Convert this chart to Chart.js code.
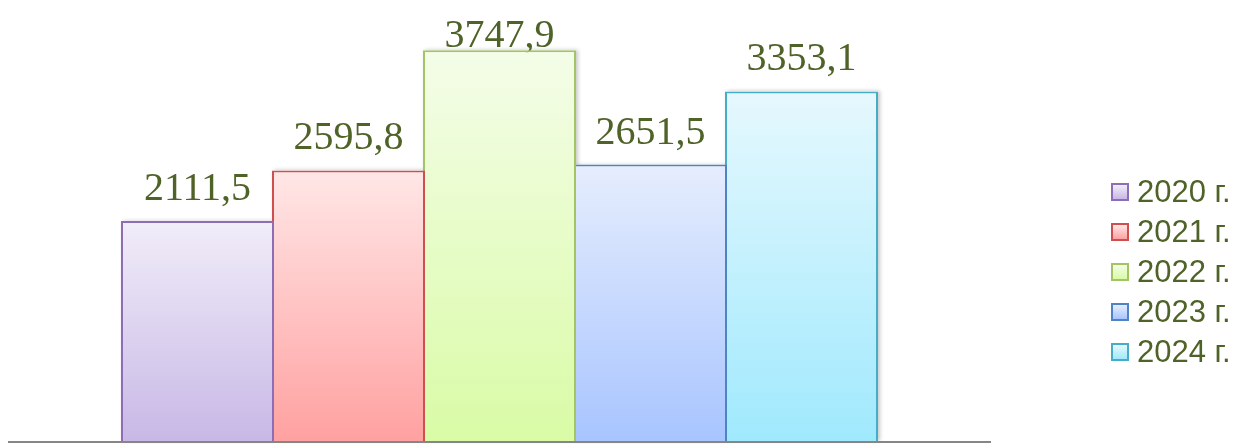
<!DOCTYPE html>
<html>
<head>
<meta charset="utf-8">
<script src="https://cdn.jsdelivr.net/npm/chart.js@4/dist/chart.umd.min.js"></script>
<style>
    html, body { margin: 0; padding: 0; background: #fff; }
    #wrap { position: relative; width: 1235px; height: 444px; overflow: hidden; }
    #legend { position: absolute; left: 1111px; top: 172px; font-family: 'Liberation Sans', Arial, sans-serif; font-size: 31px; color: #4F6228; }
    .item { height: 40px; display: flex; align-items: center; white-space: nowrap; }
    .box { width: 14px; height: 14px; border: 2px solid; margin-right: 8px; box-sizing: content-box; }
</style>
</head>
<body>
<div id="wrap">
    <canvas id="barChart"></canvas>
    <div id="legend"></div>
</div>
<script>
const years = ['2020 г.', '2021 г.', '2022 г.', '2023 г.', '2024 г.'];
const values = [2111.5, 2595.8, 3747.9, 2651.5, 3353.1];
const borderColors = ['#8C6DB6', '#CF4F4F', '#A3C465', '#4F84C4', '#45ADC8'];
const topColors = ['#F1EDF9', '#FFE7E7', '#F4FDE8', '#E6EDFD', '#E6F8FD'];
const bottomColors = ['#C8B8E6', '#FFA1A1', '#D9FBA6', '#A8C5FF', '#A0E9FD'];

function formatValue(v) {
    return v.toFixed(1).replace('.', ',');
}

// vertical gradient per bar, from its top edge down to the baseline
function barFill(context, i) {
    const chart = context.chart;
    const area = chart.chartArea;
    if (!area || context.raw === undefined) return bottomColors[i];
    const top = chart.scales.y.getPixelForValue(context.raw);
    const g = chart.ctx.createLinearGradient(0, top, 0, area.bottom);
    g.addColorStop(0, topColors[i]);
    g.addColorStop(1, bottomColors[i]);
    return g;
}

// soft drop shadow behind the bars, drawn before them so it only shows outside
const barShadow = {
    id: 'barShadow',
    beforeDatasetsDraw(chart) {
        const ctx = chart.ctx;
        ctx.save();
        ctx.shadowColor = 'rgba(0, 0, 0, 0.22)';
        ctx.shadowBlur = 4;
        ctx.shadowOffsetX = 2;
        ctx.shadowOffsetY = 0;
        ctx.fillStyle = '#fff';
        chart.data.datasets.forEach((ds, i) => {
            const bar = chart.getDatasetMeta(i).data[0];
            const half = bar.width / 2;
            ctx.fillRect(bar.x - half, bar.y, bar.width, bar.base - bar.y);
        });
        ctx.restore();
    }
};

const valueLabels = {
    id: 'valueLabels',
    beforeDatasetsDraw(chart) {
        const ctx = chart.ctx;
        ctx.save();
        ctx.font = '40px "Liberation Serif", "Times New Roman", serif';
        ctx.fillStyle = '#4F6228';
        ctx.textAlign = 'center';
        ctx.textBaseline = 'alphabetic';
        chart.data.datasets.forEach((ds, i) => {
            const bar = chart.getDatasetMeta(i).data[0];
            const y = Math.max(bar.y - 21, 47);
            ctx.fillText(formatValue(ds.data[0]), bar.x, y);
        });
        ctx.restore();
    }
};

const baseLine = {
    id: 'baseLine',
    afterDatasetsDraw(chart) {
        const ctx = chart.ctx;
        const a = chart.chartArea;
        ctx.save();
        ctx.strokeStyle = '#868686';
        ctx.lineWidth = 2;
        ctx.beginPath();
        ctx.moveTo(a.left, a.bottom + 1);
        ctx.lineTo(a.right, a.bottom + 1);
        ctx.stroke();
        ctx.restore();
    }
};

function initChart() {
    // bars a border-width wider than their slot, so neighbours share one edge line
    const datasets = years.map((label, i) => ({
        label: label,
        data: [values[i]],
        backgroundColor: ctx => barFill(ctx, i),
        borderColor: borderColors[i],
        borderWidth: 2,
        borderSkipped: 'bottom',
        inflateAmount: 0,
        categoryPercentage: 755 / 983,
        barPercentage: 153 / 151
    }));

    new Chart(document.getElementById('barChart'), {
        type: 'bar',
        data: { labels: [''], datasets: datasets },
        options: {
            responsive: true,
            maintainAspectRatio: false,
            animation: false,
            layout: { padding: { left: 8, right: 244, top: 24, bottom: 3 } },
            plugins: {
                legend: { display: false },
                tooltip: { enabled: false }
            },
            scales: {
                x: { display: false },
                y: { display: false, min: 0, max: 4000 }
            }
        },
        plugins: [barShadow, valueLabels, baseLine]
    });

    const legend = document.getElementById('legend');
    years.forEach((label, i) => {
        const item = document.createElement('div');
        item.className = 'item';
        const box = document.createElement('span');
        box.className = 'box';
        box.style.borderColor = borderColors[i];
        box.style.background = 'linear-gradient(' + topColors[i] + ', ' + bottomColors[i] + ')';
        const text = document.createElement('span');
        text.textContent = label;
        item.appendChild(box);
        item.appendChild(text);
        legend.appendChild(item);
    });
}

initChart();
</script>
</body>
</html>
